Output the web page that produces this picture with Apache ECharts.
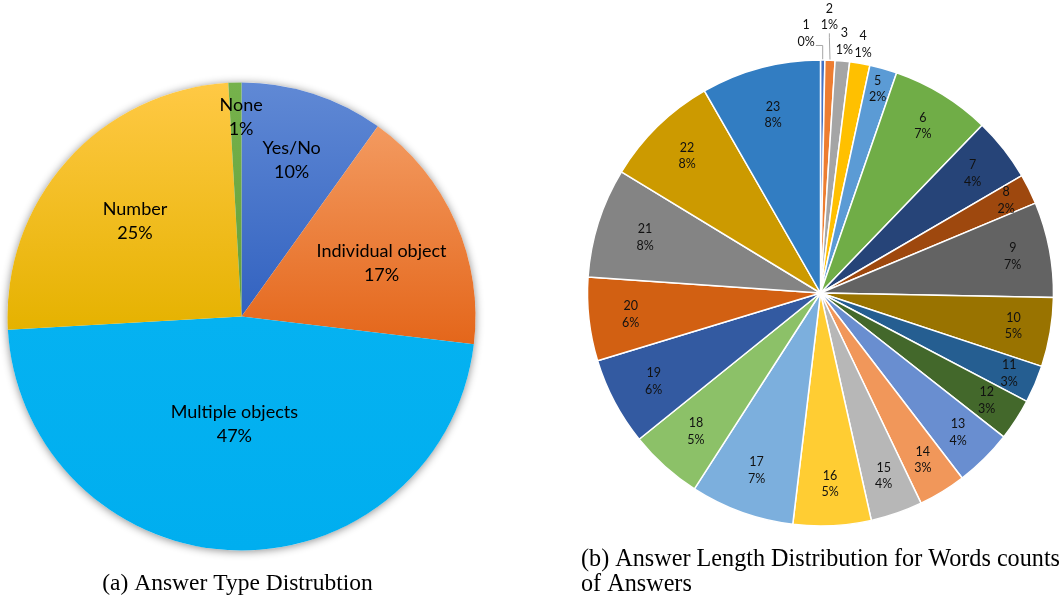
<!DOCTYPE html>
<html><head><meta charset="utf-8">
<script src="https://cdn.jsdelivr.net/npm/echarts@6/dist/echarts.min.js"></script>
<style>html,body{margin:0;padding:0;background:#fff}#c{width:1063px;height:596px}</style>
</head><body><div id="c"></div>
<script>
// ---- data ----
const typeCategories = ['Yes/No', 'Individual object', 'Multiple objects', 'Number', 'None'];
const typeShares = [9.9, 17.0, 47.2, 25.0, 0.9];
const lengthCategories = ['1','2','3','4','5','6','7','8','9','10','11','12','13','14','15','16','17','18','19','20','21','22','23'];
const lengthShares = [0.3, 0.7, 1.0, 1.4, 1.9, 6.9, 4.4, 2.1, 6.6, 4.8, 2.6, 2.9, 4.0, 3.3, 3.6, 5.4, 7.2, 5.1, 6.1, 5.8, 7.6, 8.0, 8.3];
const captionA = '(a) Answer Type Distrubtion';
const captionB = '(b) Answer Length Distribution for Words counts\nof Answers';

// ---- styles ----
const typeColors = [
  ['#6089d5', '#3262c0'],
  ['#f39a60', '#e4661a'],
  ['#05b2f1', '#00aeef'],
  ['#ffc945', '#e5b200'],
  ['#76b24c', '#64a03a']
];
const lengthColors = ['#4472c4','#ed7d31','#a5a5a5','#ffc000','#5b9bd5','#70ad47','#264478','#9e480e','#636363','#997300','#255e91','#43682b','#698ed0','#f1975a','#b7b7b7','#ffcd33','#7cafdd','#8cc168','#335aa1','#d26012','#848484','#cc9a00','#327dc2'];
const leftCenter = [241.5, 316.5], leftR = 234;
const rightCenter = [820.5, 293], rightR = 233;
const leftLabelFactor = [0.70, 0.64, 0.46, 0.61, 0.85];
const leftLabelTurn = [0, 3, 2, 0, 1.5];
const rightLabelFactor = [1.115, 1.186, 1.085, 1.083, 0.91, 0.84, 0.83, 0.89, 0.84, 0.84, 0.88, 0.85, 0.84, 0.84, 0.83, 0.82, 0.81, 0.80, 0.81, 0.82, 0.79, 0.82, 0.79];
const rightLabelTurn = [-3.7, -0.5, 0, 0, 0, 0, 0, 0, 0, 0, 0, 0, 0, 0, 0, 0, 0, 0, 0, 0, 0, 0, 0];

function makeLabelLayout(center, radius, shares, factors, turns, elbowIndex) {
  const total = shares.reduce((a, b) => a + b, 0);
  const mids = []; let acc = 0;
  shares.forEach(v => { mids.push((acc + v / 2) / total * 360); acc += v; });
  return function (p) {
    const a = (mids[p.dataIndex] + (turns[p.dataIndex] || 0)) * Math.PI / 180;
    const rr = radius * factors[p.dataIndex];
    const lx = center[0] + rr * Math.sin(a), ly = center[1] - rr * Math.cos(a);
    const out = { x: lx, y: ly, align: 'center', verticalAlign: 'middle' };
    if (p.dataIndex === elbowIndex) {
      const m = mids[p.dataIndex] * Math.PI / 180;
      const sx = center[0] + radius * Math.sin(m), sy = center[1] - radius * Math.cos(m);
      const ey = ly + p.labelRect.height * 0.36;
      out.labelLinePoints = [[sx, sy], [sx, ey], [lx + p.labelRect.width / 2 + 1, ey]];
    }
    return out;
  };
}
const pctLabel = p => p.name + '\n' + Math.round(p.percent) + '%';

const chart = echarts.init(document.getElementById('c'), null, { renderer: 'canvas' });
chart.setOption({
  backgroundColor: '#fff',
  animation: false,
  series: [
    {
      // shadow disc behind the left pie
      type: 'pie', silent: true, z: 1, center: leftCenter, radius: leftR,
      label: { show: false }, labelLine: { show: false },
      itemStyle: { color: '#fff', shadowBlur: 9, shadowColor: 'rgba(0,0,0,0.45)', shadowOffsetY: 1 },
      data: [{ value: 1, name: '' }]
    },
    {
      type: 'pie', z: 2, center: leftCenter, radius: leftR, startAngle: 90, clockwise: true,
      avoidLabelOverlap: false,
      label: { show: true, position: 'inside', formatter: pctLabel, color: '#000',
               fontFamily: 'Lato', fontSize: 18, lineHeight: 24 },
      labelLine: { show: false },
      labelLayout: makeLabelLayout(leftCenter, leftR, typeShares, leftLabelFactor, leftLabelTurn, -1),
      data: typeCategories.map((n, i) => ({
        name: n, value: typeShares[i],
        itemStyle: { color: { type: 'linear', x: 0, y: 0, x2: 0, y2: 1,
          colorStops: [{ offset: 0, color: typeColors[i][0] }, { offset: 1, color: typeColors[i][1] }] } }
      }))
    },
    {
      type: 'pie', z: 2, center: rightCenter, radius: rightR, startAngle: 90, clockwise: true,
      avoidLabelOverlap: false,
      itemStyle: { borderColor: '#fff', borderWidth: 1.5 },
      label: { show: true, position: 'inside', formatter: pctLabel, color: '#111',
               fontFamily: 'Lato', fontSize: 12.5, lineHeight: 16.5 },
      labelLine: { show: false },
      labelLayout: makeLabelLayout(rightCenter, rightR, lengthShares, rightLabelFactor, rightLabelTurn, 0),
      data: lengthCategories.map((n, i) => {
        const d = { name: n, value: lengthShares[i], itemStyle: { color: lengthColors[i] } };
        if (i < 2) {
          d.label = { position: 'outside' };
          d.labelLine = { show: true, length: 4, length2: 4, lineStyle: { color: '#a6a6a6', width: 1 } };
        }
        return d;
      })
    }
  ],
  graphic: [
    { type: 'text', x: 237.5, y: 584, silent: true,
      style: { text: captionA, fontFamily: '"Liberation Serif", "Times New Roman", serif', fontSize: 23.5,
               fill: '#000', align: 'center', verticalAlign: 'middle' } },
    { type: 'text', x: 581, y: 572, silent: true,
      style: { text: captionB, fontFamily: '"Liberation Serif", "Times New Roman", serif', fontSize: 24.2,
               lineHeight: 24.5, fill: '#000', align: 'left', verticalAlign: 'middle' } }
  ]
});
</script></body></html>
